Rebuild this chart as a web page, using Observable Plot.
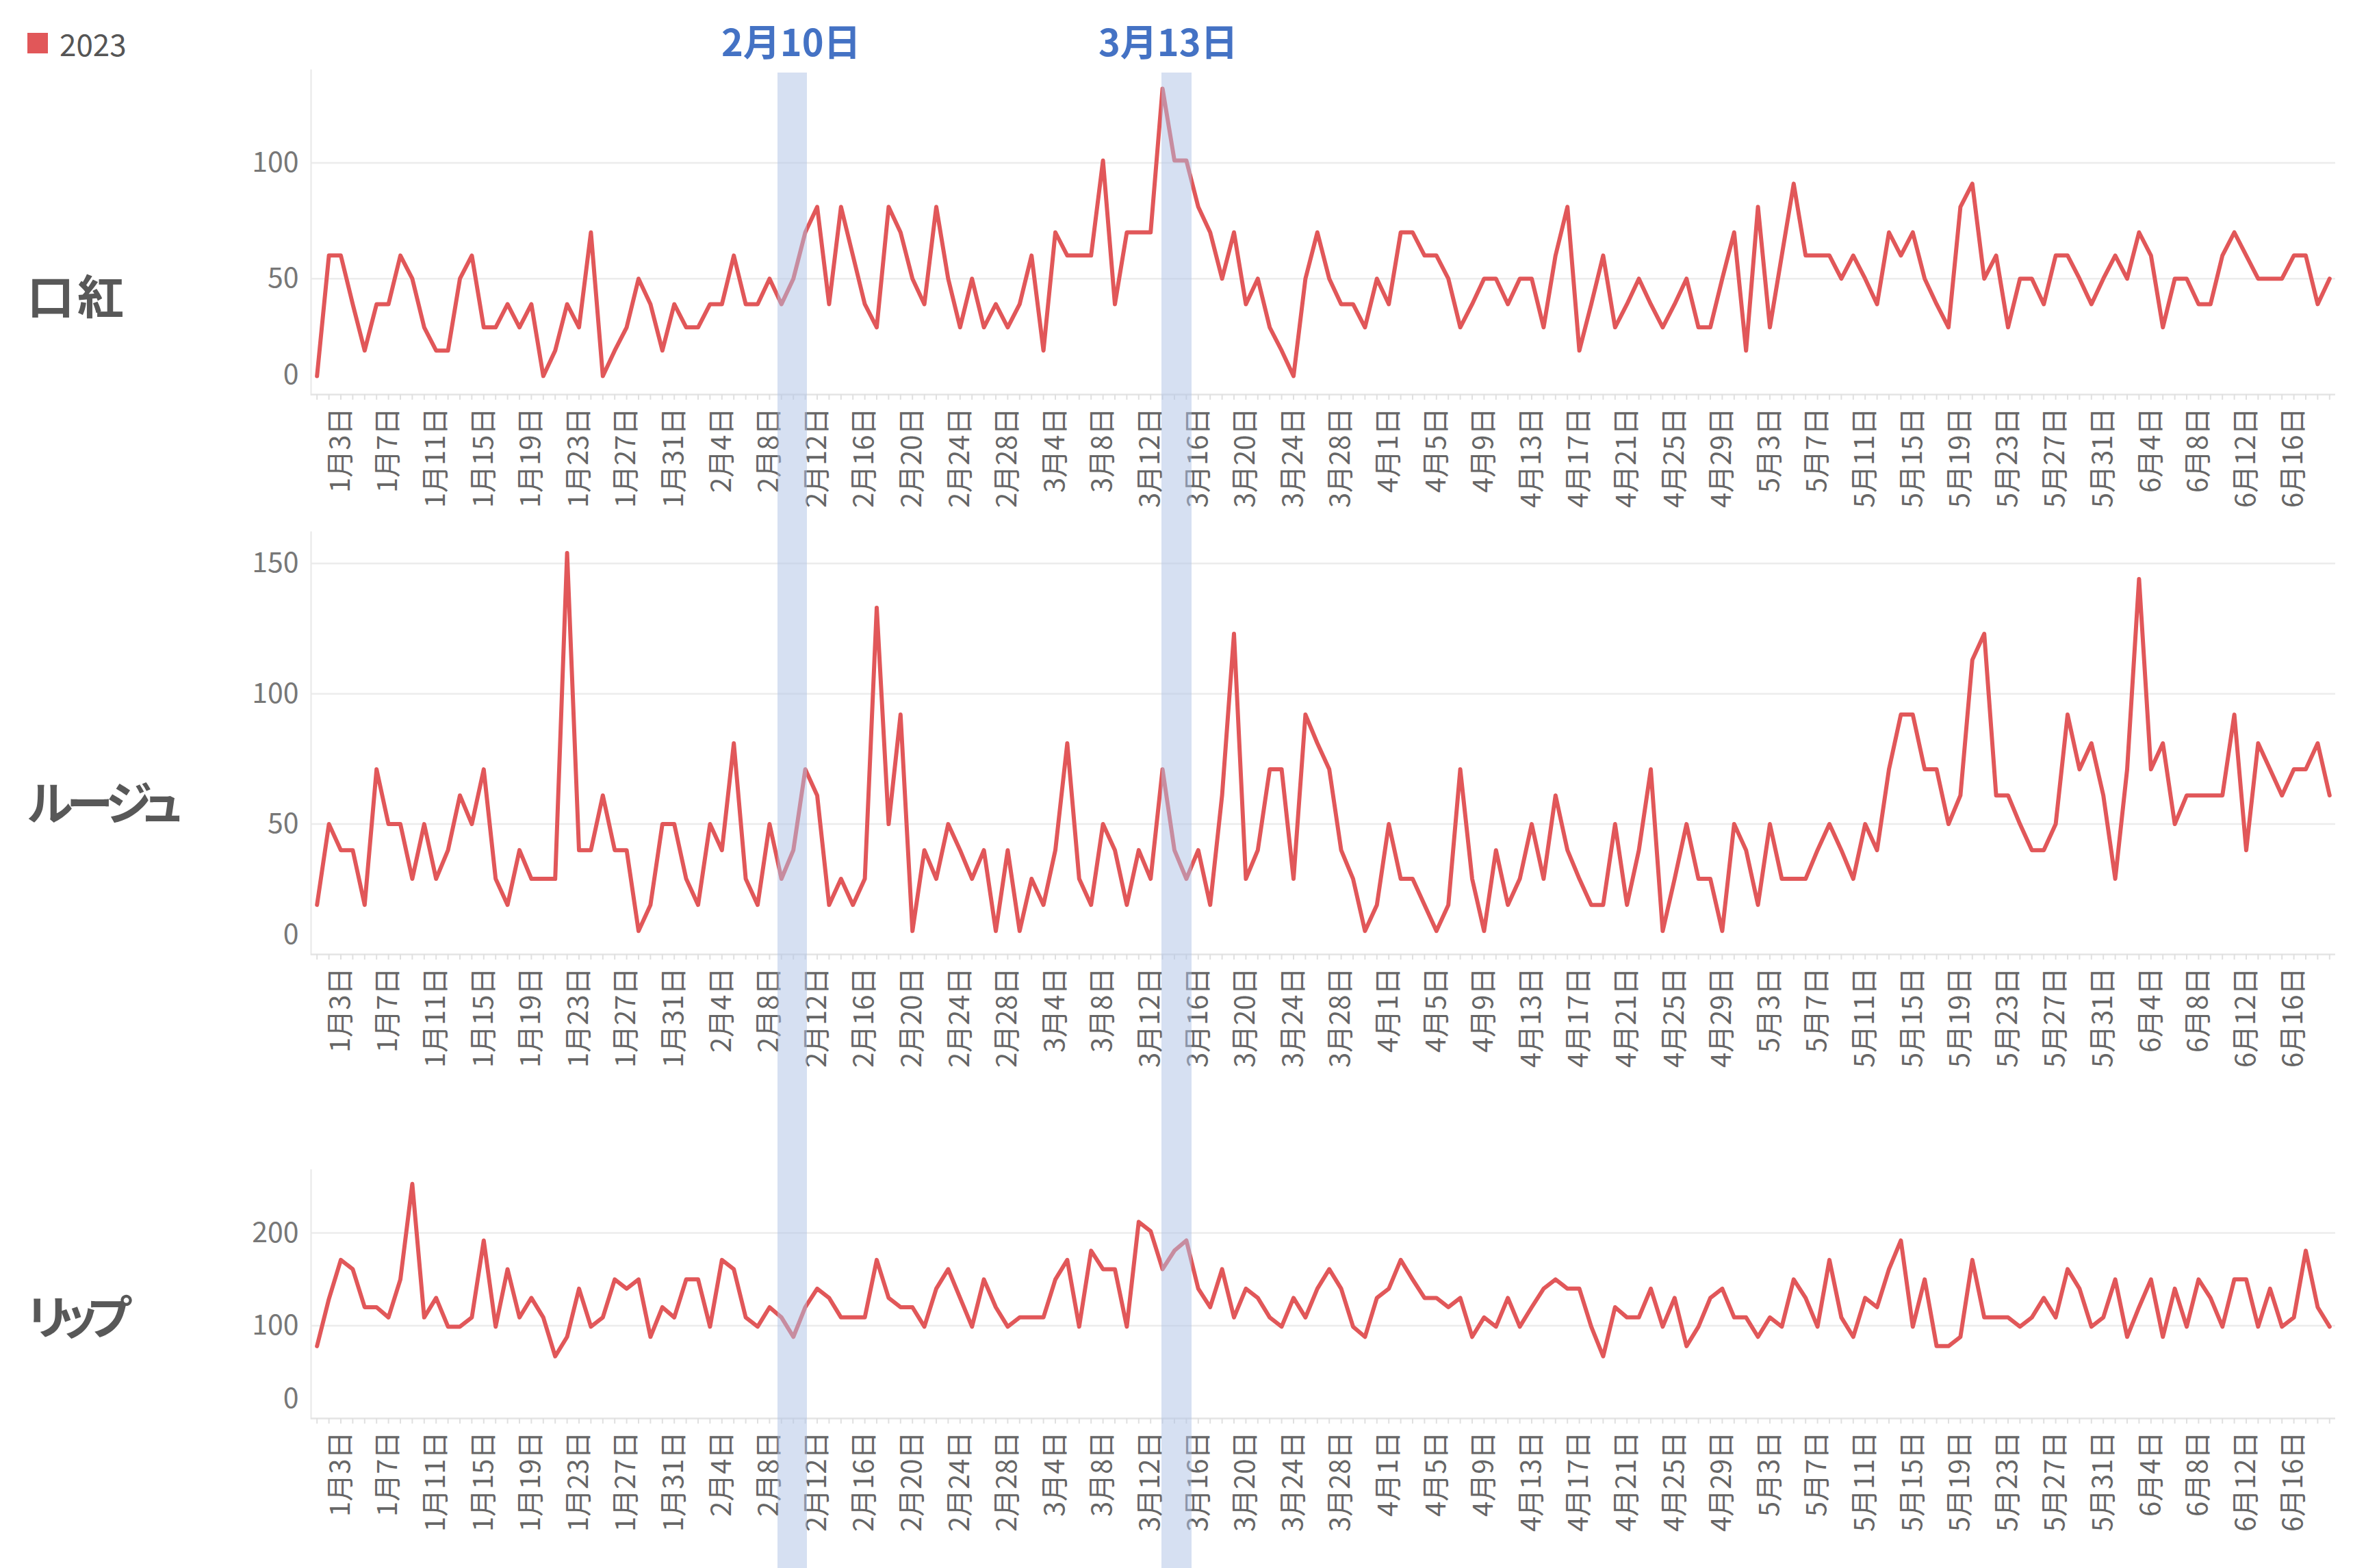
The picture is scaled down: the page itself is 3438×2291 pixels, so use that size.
<!DOCTYPE html>
<html>
<head>
<meta charset="utf-8">
<script src="https://cdn.jsdelivr.net/npm/d3@7"></script>
<script src="https://cdn.jsdelivr.net/npm/@observablehq/plot@0.6"></script>
<style>
  html, body { margin: 0; padding: 0; background: #fff; overflow: hidden; }
  #chart { position: relative; width: 3438px; height: 2291px; background: #fff; overflow: hidden;
           font-family: "Noto Sans CJK JP", "Noto Sans", sans-serif; }
  .panel { position: absolute; left: 0; }
  .header { position: absolute; left: 40px; transform: translateY(-50%); font-size: 68px; font-weight: 700;
            color: #585858; font-feature-settings: "palt"; white-space: nowrap; line-height: 1; }
  .band { position: absolute; background: rgb(173, 193, 229); opacity: 0.5; pointer-events: none; }
  .bandLabel { position: absolute; transform: translate(-50%, -50%); font-size: 54px; font-weight: 700;
               color: #4472c4; white-space: nowrap; line-height: 1; }
  .legend { position: absolute; left: 40px; top: 41px; display: flex; align-items: center; }
  .legend .sw { width: 30px; height: 30px; background: #e15759; }
  .legend .lb { margin-left: 17px; font-size: 44px; color: #555; line-height: 1; }
</style>
</head>
<body>
<div id="chart"></div>
<script>
// ---------------- data ----------------
const year = "2023";
const seriesNames = ["口紅", "ルージュ", "リップ"];

// 口紅 (daily, 2023-01-01 … 2023-06-19)
const lipstickValues = [
  8, 60, 60, 39, 19, 39, 39, 60, 50, 29, 19, 19, 50, 60, 29, 29, 39, 29, 39, 8,
  19, 39, 29, 70, 8, 19, 29, 50, 39, 19, 39, 29, 29, 39, 39, 60, 39, 39, 50, 39,
  50, 70, 81, 39, 81, 60, 39, 29, 81, 70, 50, 39, 81, 50, 29, 50, 29, 39, 29, 39,
  60, 19, 70, 60, 60, 60, 101, 39, 70, 70, 70, 132, 101, 101, 81, 70, 50, 70, 39, 50,
  29, 19, 8, 50, 70, 50, 39, 39, 29, 50, 39, 70, 70, 60, 60, 50, 29, 39, 50, 50,
  39, 50, 50, 29, 60, 81, 19, 39, 60, 29, 39, 50, 39, 29, 39, 50, 29, 29, 50, 70,
  19, 81, 29, 60, 91, 60, 60, 60, 50, 60, 50, 39, 70, 60, 70, 50, 39, 29, 81, 91,
  50, 60, 29, 50, 50, 39, 60, 60, 50, 39, 50, 60, 50, 70, 60, 29, 50, 50, 39, 39,
  60, 70, 60, 50, 50, 50, 60, 60, 39, 50
];
// ルージュ
const rougeValues = [
  19, 50, 40, 40, 19, 71, 50, 50, 29, 50, 29, 40, 61, 50, 71, 29, 19, 40, 29, 29,
  29, 154, 40, 40, 61, 40, 40, 9, 19, 50, 50, 29, 19, 50, 40, 81, 29, 19, 50, 29,
  40, 71, 61, 19, 29, 19, 29, 133, 50, 92, 9, 40, 29, 50, 40, 29, 40, 9, 40, 9,
  29, 19, 40, 81, 29, 19, 50, 40, 19, 40, 29, 71, 40, 29, 40, 19, 61, 123, 29, 40,
  71, 71, 29, 92, 81, 71, 40, 29, 9, 19, 50, 29, 29, 19, 9, 19, 71, 29, 9, 40,
  19, 29, 50, 29, 61, 40, 29, 19, 19, 50, 19, 40, 71, 9, 29, 50, 29, 29, 9, 50,
  40, 19, 50, 29, 29, 29, 40, 50, 40, 29, 50, 40, 71, 92, 92, 71, 71, 50, 61, 113,
  123, 61, 61, 50, 40, 40, 50, 92, 71, 81, 61, 29, 71, 144, 71, 81, 50, 61, 61, 61,
  61, 92, 40, 81, 71, 61, 71, 71, 81, 61
];
// リップ
const lipValues = [
  78, 129, 171, 161, 120, 120, 109, 150, 253, 109, 130, 99, 99, 109, 192, 99, 161, 109, 130, 109,
  67, 88, 140, 99, 109, 150, 140, 150, 88, 120, 109, 150, 150, 99, 171, 161, 109, 99, 120, 109,
  88, 120, 140, 130, 109, 109, 109, 171, 130, 120, 120, 99, 140, 161, 130, 99, 150, 120, 99, 109,
  109, 109, 150, 171, 99, 181, 161, 161, 99, 212, 202, 161, 181, 192, 140, 120, 161, 109, 140, 130,
  109, 99, 130, 109, 140, 161, 140, 99, 88, 130, 140, 171, 150, 130, 130, 120, 130, 88, 109, 99,
  130, 99, 120, 140, 150, 140, 140, 99, 67, 120, 109, 109, 140, 99, 130, 78, 99, 130, 140, 109,
  109, 88, 109, 99, 150, 130, 99, 171, 109, 88, 130, 120, 161, 192, 99, 150, 78, 78, 88, 171,
  109, 109, 109, 99, 109, 130, 109, 161, 140, 99, 109, 150, 88, 120, 150, 88, 140, 99, 150, 130,
  99, 150, 150, 99, 140, 99, 109, 181, 120, 99
];

const firstDay = "2023-01-01";
const xDomain = ["2022-12-31T12:00Z", "2023-06-19T12:00Z"];
const yDomains = [[0, 140], [0, 162], [0, 268]];
const yTicks = [[0, 50, 100], [0, 50, 100, 150], [0, 100, 200]];

const bandStart = ["2023-02-08T16:00Z", "2023-03-12T22:00Z"];
const bandEnd   = ["2023-02-11T03:30Z", "2023-03-15T10:30Z"];
const bandLabelDate = ["2023-02-09T20:00Z", "2023-03-13T12:00Z"];
const bandLabels = ["2月10日", "3月13日"];

// ---------------- build ----------------
const lineColor = "#e15759";
const start = new Date(firstDay + "T00:00Z");
const dates = lipstickValues.map((_, i) => d3.utcDay.offset(start, i));
const tickDates = dates.filter((_, i) => i % 4 === 2);   // 1月3日, 1月7日, …
const fmt = d => `${d.getUTCMonth() + 1}月${d.getUTCDate()}日`;

const allValues = [lipstickValues, rougeValues, lipValues];
// layout of the three panels (svg top, svg height, marginBottom, header centre, header letter spacing)
const layout = [
  {top: 92,   height: 664, marginBottom: 180, header: 430,  spacing: "5px"},
  {top: 767,  height: 807, marginBottom: 180, header: 1170, spacing: "-8px"},
  {top: 1699, height: 583, marginBottom: 210, header: 1921, spacing: "-14px"}
];

const chart = document.getElementById("chart");
let xScale = null;

allValues.forEach((vals, k) => {
  const data = dates.map((d, i) => ({date: d, value: vals[i]}));
  const L = layout[k];
  const plot = Plot.plot({
    width: 3438,
    height: L.height,
    marginLeft: 454,
    marginRight: 26,
    marginTop: 10,
    marginBottom: L.marginBottom,
    style: {background: "transparent", fontFamily: "'Noto Sans CJK JP', 'Noto Sans', sans-serif", overflow: "visible"},
    x: {type: "utc", domain: xDomain.map(s => new Date(s))},
    y: {domain: yDomains[k]},
    marks: [
      Plot.gridY(yTicks[k].filter(t => t > 0), {stroke: "#ececec", strokeOpacity: 1, strokeWidth: 2.5}),
      Plot.frame({anchor: "left", stroke: "#e8e8e8", strokeWidth: 2}),
      Plot.ruleY([0], {stroke: "#e4e4e4", strokeWidth: 2.5}),
      Plot.axisX({ticks: dates, tickSize: 8, text: null, stroke: "#e0e0e0", strokeWidth: 2, label: null}),
      Plot.axisX({ticks: tickDates, tickSize: 0, tickPadding: 19, tickRotate: -90, tickFormat: fmt,
                  fontSize: 40, fill: "#666", label: null}),
      Plot.axisY({ticks: yTicks[k].filter(t => t > 0), tickSize: 0, tickPadding: 18, fontSize: 41,
                  fill: "#777", label: null}),
      Plot.axisY({ticks: [0], tickSize: 0, tickPadding: 18, fontSize: 41, fill: "#777", label: null, dy: -29}),
      Plot.line(data, {x: "date", y: "value", stroke: lineColor, strokeWidth: 6})
    ]
  });
  const wrap = document.createElement("div");
  wrap.className = "panel";
  wrap.style.top = L.top + "px";
  wrap.appendChild(plot);
  chart.appendChild(wrap);
  if (!xScale) xScale = plot.scale("x");

  const h = document.createElement("div");
  h.className = "header";
  h.style.top = L.header + "px";
  h.style.letterSpacing = L.spacing;
  h.textContent = seriesNames[k];
  chart.appendChild(h);
});

// legend
const legend = document.createElement("div");
legend.className = "legend";
legend.innerHTML = `<div class="sw"></div><div class="lb">${year}</div>`;
chart.appendChild(legend);

// highlight bands (positioned through Plot's x scale)
bandStart.forEach((s, i) => {
  const x1 = xScale.apply(new Date(s));
  const x2 = xScale.apply(new Date(bandEnd[i]));
  const b = document.createElement("div");
  b.className = "band";
  b.style.left = x1 + "px";
  b.style.width = (x2 - x1) + "px";
  b.style.top = "106px";
  b.style.bottom = "0px";
  chart.appendChild(b);

  const t = document.createElement("div");
  t.className = "bandLabel";
  t.style.left = xScale.apply(new Date(bandLabelDate[i])) + "px";
  t.style.top = "59px";
  t.textContent = bandLabels[i];
  chart.appendChild(t);
});
</script>
</body>
</html>
